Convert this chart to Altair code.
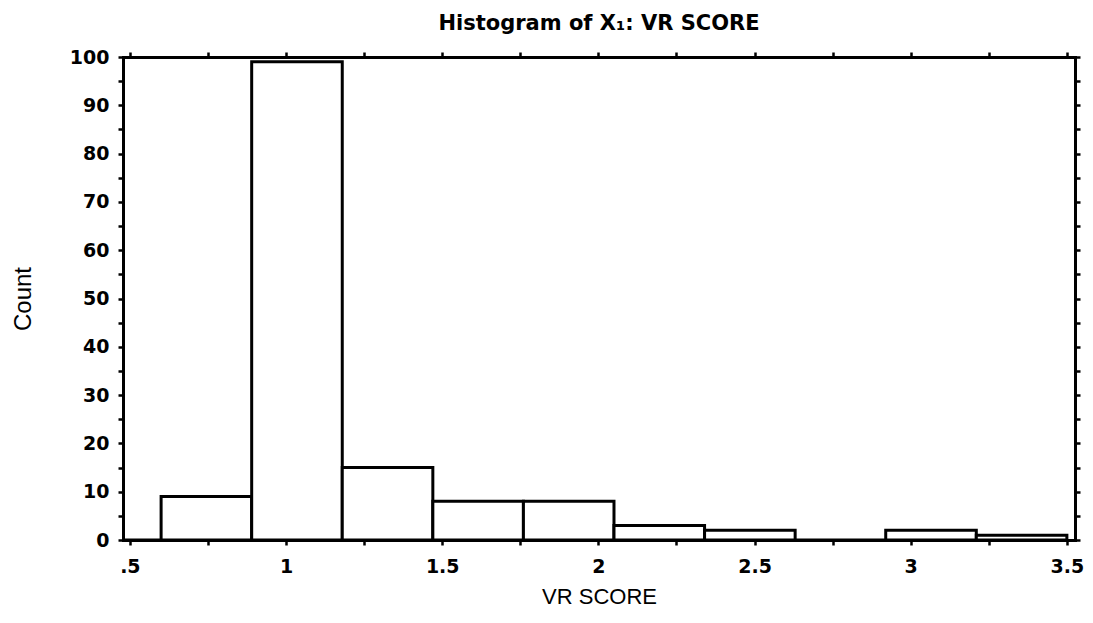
import altair as alt
import pandas as pd

bin_start = [0.31, 0.60, 0.89, 1.18, 1.47, 1.76, 2.05, 2.34, 2.63, 2.92, 3.21]
bin_end = [0.60, 0.89, 1.18, 1.47, 1.76, 2.05, 2.34, 2.63, 2.92, 3.21, 3.50]
counts = [0, 9, 99, 15, 8, 8, 3, 2, 0, 2, 1]

x_ticks = [0.5, 0.75, 1.0, 1.25, 1.5, 1.75, 2.0, 2.25, 2.5, 2.75, 3.0, 3.25, 3.5]
y_ticks = [0, 5, 10, 15, 20, 25, 30, 35, 40, 45, 50, 55, 60, 65, 70, 75, 80, 85, 90, 95, 100]

df = pd.DataFrame({"start": bin_start, "end": bin_end, "count": counts})

LFONT = "DejaVu Sans"
TFONT = "Liberation Sans"
xscale = alt.Scale(domain=[0.478, 3.526], nice=False, zero=False)
yscale = alt.Scale(domain=[0, 100], nice=False)

x_lab = "datum.value == 0.5 ? '.5' : (round(datum.value * 4) % 2 == 0 ? toString(datum.value) : '')"
y_lab = "round(datum.value) % 10 == 0 ? toString(datum.value) : ''"

common = dict(tickSize=5, tickWidth=2.5, tickColor="black", domain=True,
              domainColor="black", domainWidth=3, domainCap="square", grid=False)

bars = alt.Chart(df).mark_rect(
    fill="white", stroke="black", strokeWidth=3, clip=True
).encode(
    x=alt.X("start:Q", scale=xscale, axis=alt.Axis(
        values=x_ticks, labelExpr=x_lab, title="VR SCORE", labelFont=LFONT,
        labelFontSize=19, labelFontWeight="bold", labelColor="black",
        labelPadding=12, labelFlush=False, titleFont=TFONT, titleFontSize=22,
        titleFontWeight="normal", titleColor="black", titlePadding=10, **common)),
    x2="end:Q",
    y=alt.Y("count:Q", scale=yscale, axis=alt.Axis(
        values=y_ticks, labelExpr=y_lab, title="Count", labelFont=LFONT,
        labelFontSize=19, labelFontWeight="bold", labelColor="black",
        labelPadding=9, labelFlush=False, titleFont=TFONT, titleFontSize=24,
        titleFontWeight="normal", titleColor="black", titlePadding=34, **common)),
    y2=alt.datum(0),
)

frame_axes = alt.Chart(df).mark_point(opacity=0).encode(
    x=alt.X("start:Q", scale=xscale, axis=alt.Axis(
        orient="top", values=x_ticks, labels=False, title=None, **common)),
    y=alt.Y("count:Q", scale=yscale, axis=alt.Axis(
        orient="right", values=y_ticks, labels=False, title=None, **common)),
)

chart = alt.layer(bars, frame_axes).resolve_axis(
    x="independent", y="independent"
).properties(
    width=952,
    height=483,
    padding={"left": 115, "top": 49, "right": 10, "bottom": 70},
    autosize=alt.AutoSizeParams(type="none"),
    title=alt.TitleParams("Histogram of X₁: VR SCORE", font=LFONT, fontSize=21,
                          fontWeight="bold", color="black", offset=14),
).configure_view(strokeWidth=0).configure(background="white")

chart.save("out.html", embed_options={"renderer": "svg", "actions": False})
